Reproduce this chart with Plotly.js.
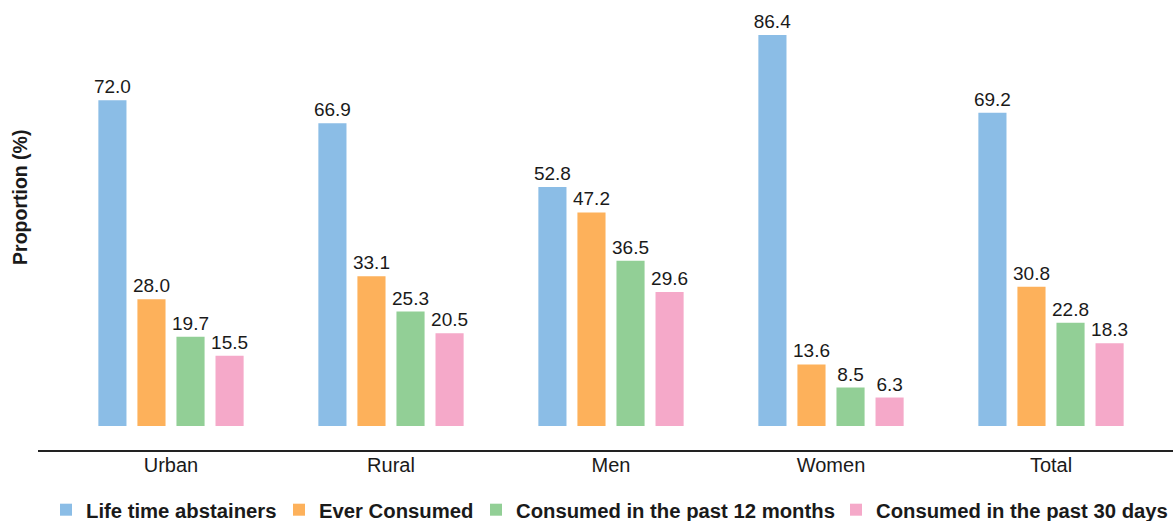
<!DOCTYPE html>
<html>
<head>
<meta charset="utf-8">
<script src="https://cdn.plot.ly/plotly-3.0.1.min.js"></script>
<style>html,body{margin:0;padding:0;background:#fff;}#chart{width:1173px;height:521px;}</style>
</head>
<body>
<div id="chart"></div>
<script>
const categories = ["Urban", "Rural", "Men", "Women", "Total"];
const seriesNames = ["Life time abstainers", "Ever Consumed", "Consumed in the past 12 months", "Consumed in the past 30 days"];
const lifetimeAbstainers = [72.0, 66.9, 52.8, 86.4, 69.2];
const everConsumed = [28.0, 33.1, 47.2, 13.6, 30.8];
const past12Months = [19.7, 25.3, 36.5, 8.5, 22.8];
const past30Days = [15.5, 20.5, 29.6, 6.3, 18.3];
const seriesColors = ["#8bbde6", "#fdb15b", "#92cf96", "#f5a9c9"];

const seriesValues = [lifetimeAbstainers, everConsumed, past12Months, past30Days];
const FONT = "Liberation Sans, Arial, sans-serif";

// left pixel where each legend entry's text begins
const legendTextStart = [86, 319, 516, 876];
const legendIds = ["legend", "legend2", "legend3", "legend4"];

const traces = seriesValues.map((vals, i) => ({
  type: "bar",
  name: seriesNames[i],
  legend: legendIds[i],
  x: categories,
  y: vals,
  marker: {color: seriesColors[i]},
  text: vals.map(v => v.toFixed(1)),
  textposition: "outside",
  constraintext: "none",
  textfont: {family: FONT, size: 19, color: "#1a1a1a"},
  cliponaxis: false,
  hoverinfo: "skip"
}));

const layout = {
  width: 1173,
  height: 521,
  margin: {l: 38, r: 0, t: 10, b: 71, autoexpand: false},
  paper_bgcolor: "#fff",
  plot_bgcolor: "#fff",
  barmode: "group",
  bargap: 0.29,
  bargroupgap: 0.28,
  font: {family: FONT, color: "#1a1a1a"},
  xaxis: {
    range: [-0.6045, 4.5545],
    showline: true,
    linecolor: "#222",
    linewidth: 1.5,
    ticks: "",
    ticklabelstandoff: -4,
    tickfont: {family: FONT, size: 20, color: "#1a1a1a"},
    showgrid: false,
    zeroline: false,
    fixedrange: true
  },
  yaxis: {
    range: [-5.30, 91.93],
    showticklabels: false,
    showgrid: false,
    zeroline: false,
    showline: false,
    ticks: "",
    fixedrange: true
  },
  annotations: [{
    text: "Proportion (%)",
    xref: "paper", yref: "paper",
    x: -0.0159, y: 0.575,
    xanchor: "center", yanchor: "middle",
    textangle: -90,
    showarrow: false,
    font: {family: FONT, size: 19.5, weight: "bold", color: "#1a1a1a"}
  }],
  showlegend: true
};

legendIds.forEach((id, i) => {
  layout[id] = {
    orientation: "h",
    xref: "container", yref: "container",
    x: (legendTextStart[i] - 40) / 1173, xanchor: "left",
    y: 0.0211, yanchor: "middle",
    font: {family: FONT, size: 20.3, weight: "bold", color: "#1a1a1a"},
    bgcolor: "rgba(0,0,0,0)",
    borderwidth: 0
  };
});

Plotly.newPlot("chart", traces, layout, {displayModeBar: false, staticPlot: true});
</script>
</body>
</html>
